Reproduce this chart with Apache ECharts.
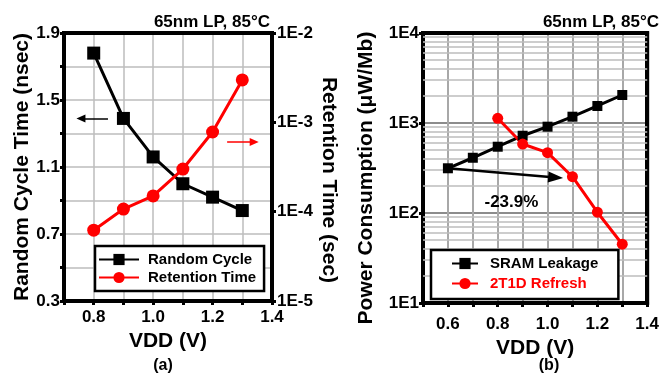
<!DOCTYPE html>
<html>
<head>
<meta charset="utf-8">
<script src="https://cdn.jsdelivr.net/npm/echarts@6/dist/echarts.min.js"></script>
<style>
  html, body { margin: 0; padding: 0; background: #fff; }
  #chart { width: 662px; height: 375px; }
</style>
</head>
<body>
<div id="chart"></div>
<script>
// (a) cycle time and retention time vs VDD
const vddA = [0.8, 0.9, 1.0, 1.1, 1.2, 1.3];
const cycleTime = [1.78, 1.39, 1.16, 1.0, 0.92, 0.84];          // nsec
const retentionTime = [6.2e-5, 1.07e-4, 1.5e-4, 3.0e-4, 7.8e-4, 2.98e-3]; // sec

// (b) power consumption vs VDD
const vddSram = [0.6, 0.7, 0.8, 0.9, 1.0, 1.1, 1.2, 1.3];
const sramLeakage = [314, 411, 545, 722, 910, 1175, 1545, 2047]; // uW/Mb
const vddRefresh = [0.8, 0.9, 1.0, 1.1, 1.2, 1.3];
const refreshPower = [1127, 584, 468, 253, 102, 45];

const FONT = '"Liberation Sans", Arial, sans-serif';

// minor log grid lines 2..9 x 10^k for panel (b)
const logMinor = [];
[10, 100, 1000].forEach(d => { for (let m = 2; m <= 9; m++) logMinor.push(m * d); });

const pairs = (xs, ys) => xs.map((x, i) => [x, ys[i]]);
const evenTenth = v => Math.round(v * 10) % 2 === 0;
const expLabel = v => '1E' + Math.round(Math.log10(v));

const labelStyle = { fontFamily: FONT, fontWeight: 'bold', fontSize: 17, color: '#000' };
const nameStyle = { fontFamily: FONT, fontWeight: 'bold', fontSize: 21, color: '#000' };
const tick = () => ({ show: true, length: 4, lineStyle: { color: '#000', width: 3 } });
const frame = () => ({ show: true, onZero: false, lineStyle: { color: '#000', width: 4 } });
const frameOnly = () => ({
  axisLine: frame(), axisTick: { show: false }, axisLabel: { show: false }, splitLine: { show: false }
});
const plainLine = (color, width) => ({ color, width, type: 'solid' });

const chart = echarts.init(document.getElementById('chart'));

chart.setOption({
  animation: false,
  backgroundColor: '#fff',
  grid: [
    { left: 64, top: 33, width: 208, height: 268, show: true, borderColor: '#000', borderWidth: 4, backgroundColor: 'transparent' },
    { left: 423, top: 33, width: 232, height: 270, show: true, borderColor: '#000', borderWidth: 4, backgroundColor: 'transparent' }
  ],
  xAxis: [
    {
      gridIndex: 0, type: 'value', min: 0.7, max: 1.4, interval: 0.1,
      name: 'VDD (V)', nameLocation: 'middle', nameGap: 28, nameTextStyle: nameStyle,
      axisLine: frame(), axisTick: tick(),
      axisLabel: { ...labelStyle, margin: 8, formatter: v => evenTenth(v) ? v.toFixed(1) : '' },
      splitLine: { show: true, lineStyle: { color: '#bdbdbd', width: 1.5 } }
    },
    {
      gridIndex: 1, type: 'value', min: 0.5, max: 1.4, interval: 0.1,
      name: 'VDD (V)', nameLocation: 'middle', nameGap: 29, nameTextStyle: nameStyle,
      axisLine: frame(), axisTick: tick(),
      axisLabel: { ...labelStyle, margin: 13, formatter: v => (evenTenth(v) && v > 0.55) ? v.toFixed(1) : '' },
      splitLine: { show: true, lineStyle: { color: '#a8a8a8', width: 2 } }
    },
    { gridIndex: 0, type: 'value', min: 0.7, max: 1.4, position: 'top', ...frameOnly() },
    { gridIndex: 1, type: 'value', min: 0.5, max: 1.4, position: 'top', ...frameOnly() }
  ],
  yAxis: [
    {
      gridIndex: 0, type: 'value', min: 0.3, max: 1.9, interval: 0.2,
      name: 'Random Cycle Time (nsec)', nameLocation: 'middle', nameGap: 28, nameTextStyle: nameStyle,
      axisLine: frame(), axisTick: tick(),
      axisLabel: { ...labelStyle, margin: 4, formatter: v => Math.round((v - 0.3) * 10) % 4 === 0 ? v.toFixed(1) : '' },
      splitLine: { show: true, lineStyle: { color: '#bdbdbd', width: 1.5 } }
    },
    {
      gridIndex: 0, type: 'log', logBase: 10, min: 1e-5, max: 1e-2, splitNumber: 3, position: 'right',
      name: 'Retention Time (sec)', nameLocation: 'middle', nameGap: 46, nameRotate: -90,
      nameTextStyle: { ...nameStyle, padding: [0, 0, 0, 26] },
      axisLine: frame(), axisTick: tick(),
      axisLabel: { ...labelStyle, margin: 5, formatter: expLabel },
      splitLine: { show: false }
    },
    {
      gridIndex: 1, type: 'log', logBase: 10, min: 10, max: 10000, splitNumber: 3,
      name: 'Power Consumption (\u03bcW/Mb)', nameLocation: 'middle', nameGap: 46,
      nameTextStyle: { ...nameStyle, padding: [0, 20, 0, 0] },
      axisLine: frame(), axisTick: tick(),
      axisLabel: { ...labelStyle, margin: 4, formatter: expLabel },
      splitLine: { show: true, lineStyle: { color: '#8c8c8c', width: 2 } }
    },
    { gridIndex: 1, type: 'log', logBase: 10, min: 10, max: 10000, position: 'right', ...frameOnly() }
  ],
  legend: [
    {
      left: 95, top: 246, orient: 'vertical', backgroundColor: '#fff',
      borderColor: '#000', borderWidth: 2.5, padding: [6, 8, 6, 3], itemGap: 3,
      itemWidth: 40, itemHeight: 14,
      textStyle: { fontFamily: FONT, fontWeight: 'bold', fontSize: 15, color: '#000', padding: [0, 0, 0, 4] },
      data: ['Random Cycle', 'Retention Time']
    },
    {
      left: 431, top: 250, orient: 'vertical', backgroundColor: '#fff',
      borderColor: '#000', borderWidth: 2.5, padding: [6, 20, 8, 20], itemGap: 5,
      itemWidth: 26, itemHeight: 14,
      textStyle: { fontFamily: FONT, fontWeight: 'bold', fontSize: 15, color: '#000', padding: [0, 0, 0, 7] },
      data: ['SRAM Leakage', { name: '2T1D Refresh', textStyle: { color: '#ff0000' } }]
    }
  ],
  graphic: [
    { type: 'text', x: 270, y: 22, style: { text: '65nm LP, 85\u00b0C', font: 'bold 17px ' + FONT, fill: '#000', textAlign: 'right', textVerticalAlign: 'middle' } },
    { type: 'text', x: 659, y: 22, style: { text: '65nm LP, 85\u00b0C', font: 'bold 17px ' + FONT, fill: '#000', textAlign: 'right', textVerticalAlign: 'middle' } },
    { type: 'text', x: 163, y: 366, style: { text: '(a)', font: 'bold 16px ' + FONT, fill: '#000', textAlign: 'center', textVerticalAlign: 'middle' } },
    { type: 'text', x: 549, y: 366, style: { text: '(b)', font: 'bold 16px ' + FONT, fill: '#000', textAlign: 'center', textVerticalAlign: 'middle' } }
  ],
  series: [
    {
      name: 'logGrid', type: 'line', xAxisIndex: 1, yAxisIndex: 2, z: 1, data: [],
      markLine: {
        z: 1, silent: true, symbol: ['none', 'none'], label: { show: false },
        lineStyle: plainLine('#bcbcbc', 1.5),
        data: logMinor.map(v => ({ yAxis: v }))
      }
    },
    {
      name: 'Random Cycle', type: 'line', xAxisIndex: 0, yAxisIndex: 0, z: 3,
      data: pairs(vddA, cycleTime),
      symbol: 'rect', symbolSize: 13,
      lineStyle: { color: '#000', width: 3 }, itemStyle: { color: '#000' },
      markLine: {
        silent: true, symbol: ['none', 'none'], label: { show: false },
        data: [
          [{ coord: [0.848, 1.39], lineStyle: plainLine('#000', 1.5) }, { coord: [0.757, 1.39] }],
          [{ coord: [1.249, 1.25], lineStyle: plainLine('#ff0000', 1.5) }, { coord: [1.340, 1.25] }]
        ]
      },
      markPoint: {
        silent: true, symbol: 'triangle', symbolSize: [8, 9], label: { show: false },
        data: [
          { coord: [0.757, 1.39], symbolRotate: 90, itemStyle: { color: '#000' } },
          { coord: [1.340, 1.25], symbolRotate: -90, itemStyle: { color: '#ff0000' } }
        ]
      }
    },
    {
      name: 'Retention Time', type: 'line', xAxisIndex: 0, yAxisIndex: 1, z: 3,
      data: pairs(vddA, retentionTime),
      symbol: 'circle', symbolSize: 13,
      lineStyle: { color: '#ff0000', width: 3 }, itemStyle: { color: '#ff0000' }
    },
    {
      name: 'SRAM Leakage', type: 'line', xAxisIndex: 1, yAxisIndex: 2, z: 3,
      data: pairs(vddSram, sramLeakage),
      symbol: 'rect', symbolSize: 10,
      lineStyle: { color: '#000', width: 3 }, itemStyle: { color: '#000' },
      markLine: {
        silent: true, symbol: ['none', 'none'], label: { show: false },
        data: [
          [{ coord: [0.6, 314], lineStyle: plainLine('#000', 2.5) }, { coord: [1.0325, 248] }]
        ]
      },
      markPoint: {
        silent: true,
        data: [
          { coord: [1.0325, 248], symbol: 'triangle', symbolSize: [11, 15], symbolRotate: -94.5,
            itemStyle: { color: '#000' }, label: { show: false } },
          { coord: [0.855, 132], symbol: 'rect', symbolSize: 1, itemStyle: { color: 'transparent' },
            label: { show: true, position: 'inside', formatter: '-23.9%', fontFamily: FONT, fontWeight: 'bold', fontSize: 17, color: '#000' } }
        ]
      }
    },
    {
      name: '2T1D Refresh', type: 'line', xAxisIndex: 1, yAxisIndex: 2, z: 3,
      data: pairs(vddRefresh, refreshPower),
      symbol: 'circle', symbolSize: 11,
      lineStyle: { color: '#ff0000', width: 3 }, itemStyle: { color: '#ff0000' }
    }
  ]
});
</script>
</body>
</html>
